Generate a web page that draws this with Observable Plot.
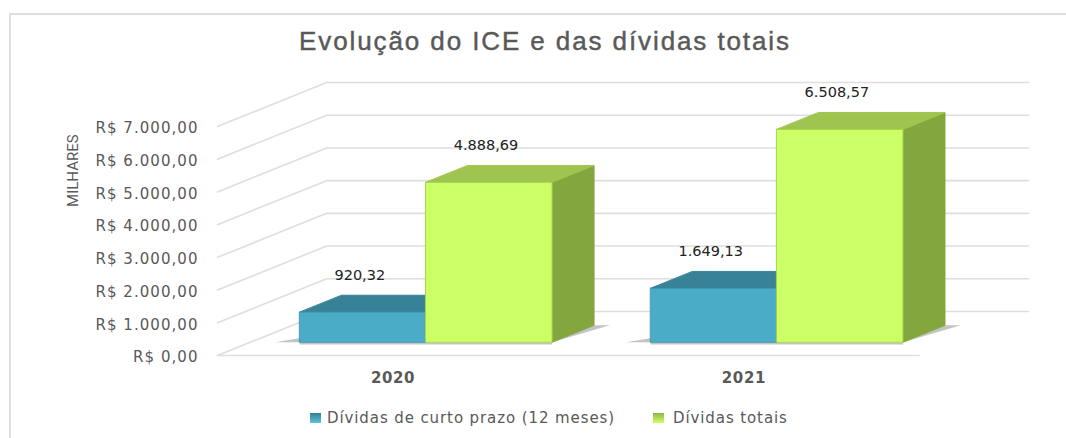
<!DOCTYPE html>
<html lang="pt-BR">
<head>
<meta charset="utf-8">
<script src="https://cdn.jsdelivr.net/npm/d3@7"></script>
<script src="https://cdn.jsdelivr.net/npm/@observablehq/plot@0.6"></script>
<style>
  html, body { margin: 0; padding: 0; background: #fff; }
  #root { position: relative; width: 1066px; height: 438px; overflow: hidden; }
  #frame { position: absolute; left: 9px; top: 13px; width: 1100px; height: 500px; border: 2px solid #dedede; box-sizing: border-box; }
  #title { position: absolute; left: 0; top: 24px; width: 1090px; text-align: center; font: 26px/34px "Liberation Sans", sans-serif; letter-spacing: 1.9px; color: #595959; -webkit-text-stroke: 0.45px #595959; }
  #chart { position: absolute; left: 0; top: 70px; }
  #chart svg { overflow: visible; background: transparent; }
  #chart g[aria-label="y-axis tick label"] text { letter-spacing: 1.05px; }
  #chart g[aria-label="x-axis tick label"] text { letter-spacing: 0.6px; }
  #chart g[aria-label="valor"] text { letter-spacing: 1.15px; }
  .leg { position: absolute; top: 408px; font: 15px/20px "DejaVu Sans", sans-serif; color: #595959; letter-spacing: 0.9px; white-space: nowrap; }
  .sw { position: absolute; top: 413px; width: 11px; height: 10px; }
</style>
</head>
<body>
<div id="root">
  <div id="frame"></div>
  <div id="title">Evolução do ICE e das dívidas totais</div>
  <div id="chart"></div>
  <div class="sw" style="left:310px;background:linear-gradient(#2f7f96,#5fc3dc)"></div>
  <div class="leg" style="left:327px">Dívidas de curto prazo (12 meses)</div>
  <div class="sw" style="left:653px;background:linear-gradient(#8fb545,#d2ff6a)"></div>
  <div class="leg" style="left:673px">Dívidas totais</div>
</div>
<script>
const years = ["2020", "2021"];
const shortTermDebt = [920.32, 1649.13];
const totalDebt = [4888.69, 6508.57];
const axisTicks = [0, 1000, 2000, 3000, 4000, 5000, 6000, 7000];

const seriesColors = {
  short: {front: "#4bacc8", top: "#378297", side: "#2f7388", edge: "#3f93ad"},
  total: {front: "#ccff66", top: "#9fc44f", side: "#84a63f", edge: "#a5d24e"}
};

// Oblique projection of the 3D chart box: depth d in [0, 1]
const depthX = 0.311;      // in category bands
const depthY = 1345;       // in value units
const project = (x, v, d) => ({x: x + d * depthX, y: v + d * depthY});

const barNear = 0.30, barFar = 0.685, barInset = 0.141, barWidth = 0.3595;
const brl = (v) => v.toLocaleString("pt-BR", {minimumFractionDigits: 2, maximumFractionDigits: 2});

// Polygon helper
const polygons = [];
const poly = (group, fill, stroke, pts) => pts.forEach(([x, v, d]) => polygons.push({group, fill, stroke, ...project(x, v, d)}));

const shadows = [];
const addShadow = (id, pts) => pts.forEach(([x, v, d]) => shadows.push({id, ...project(x, v, d)}));

const labels = [];
years.forEach((yr, i) => {
  const series = [["short", shortTermDebt[i]], ["total", totalDebt[i]]];
  const xL = i + barInset, xR = xL + 2 * barWidth;
  addShadow(`l${i}`, [[xL, 0, barNear], [xL, 0, barNear + 0.16], [xL - 0.07, 0, barNear]]);
  addShadow(`r${i}`, [[xR, 0, barNear], [xR, 0, barFar], [xR + 0.045, 0, barFar], [xR, 0, barNear]]);
  addShadow(`b${i}`, [[xL, -25, barNear], [xR, -25, barNear], [xR, -70, barNear], [xL, -70, barNear]]);
  series.forEach(([key, v], k) => {
    const c = seriesColors[key];
    const x0 = xL + k * barWidth, x1 = x0 + barWidth, id = `${yr}-${key}`;
    poly(`${id}-side`, c.side, c.side, [[x1, 0, barNear], [x1, 0, barFar], [x1, v, barFar], [x1, v, barNear]]);
    poly(`${id}-top`, c.top, c.top, [[x0, v, barNear], [x1, v, barNear], [x1, v, barFar], [x0, v, barFar]]);
    poly(`${id}-front`, c.front, c.edge, [[x0, 0, barNear], [x1, 0, barNear], [x1, v, barNear], [x0, v, barNear]]);
    labels.push({...project(x0 + barWidth / 2, v, barNear), text: brl(v)});
  });
});

// Gridlines: up the left wall, then along the back wall
const grid = axisTicks.flatMap((t) => [
  {t, ...project(0, t, 0)},
  {t, ...project(0, t, 1)},
  {t, ...project(2, t, 1)}
]);
const floorFront = [{x: 0, y: 0}, {x: 2, y: 0}];

const plot = Plot.plot({
  width: 1066,
  height: 330,
  marginLeft: 217,
  marginRight: 38,
  marginTop: 12,
  marginBottom: 45,
  x: {domain: [0, 2 + depthX], axis: null},
  y: {domain: [0, 7000 + depthY], axis: null},
  style: {background: "transparent", color: "#595959"},
  marks: [
    Plot.line(grid, {x: "x", y: "y", z: "t", stroke: "#dedede", strokeWidth: 1.6}),
    Plot.line(floorFront, {x: "x", y: "y", stroke: "#dedede", strokeWidth: 1.6}),
    Plot.line(shadows, {x: "x", y: "y", z: "id", fill: "#8a8a8a", stroke: "none", fillOpacity: 0.5}),
    Plot.line(polygons, {x: "x", y: "y", z: "group", fill: "fill", stroke: "stroke", strokeWidth: 1, curve: "linear-closed"}),
    Plot.axisY({
      ticks: axisTicks,
      tickSize: 0,
      tickPadding: 19,
      tickFormat: (d) => `R$ ${brl(d)}`,
      label: null,
      fontSize: 15,
      fontFamily: "DejaVu Sans",
      fill: "#595959",
      dy: 2
    }),
    Plot.axisX({
      ticks: [0.5, 1.5],
      tickSize: 0,
      tickPadding: 17,
      tickFormat: (d) => years[Math.floor(d)],
      label: null,
      fontSize: 15,
      fontWeight: "bold",
      fontFamily: "DejaVu Sans",
      fill: "#595959"
    }),
    Plot.text(["MILHARES"], {
      x: () => -0.41,
      y: () => 5650,
      rotate: -90,
      fontSize: 15,
      fontFamily: "Roboto",
      fontWeight: 400,
      fill: "#595959"
    }),
    Plot.text(labels, {
      x: "x",
      y: "y",
      text: "text",
      dx: -3,
      dy: -37,
      fontSize: 14.5,
      fontFamily: "DejaVu Sans",
      fill: "#222",
      ariaLabel: "valor"
    })
  ]
});
document.getElementById("chart").appendChild(plot);
</script>
</body>
</html>
